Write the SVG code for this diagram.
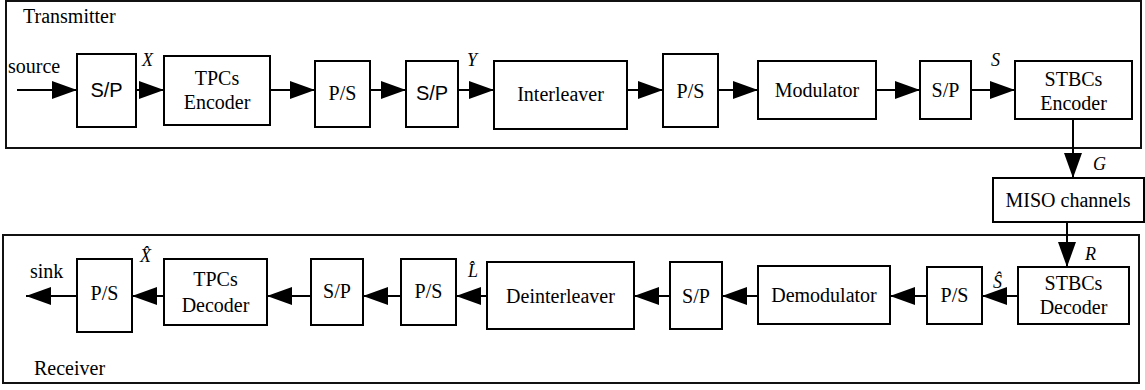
<svg xmlns="http://www.w3.org/2000/svg" width="1145" height="390" viewBox="0 0 1145 390">
<style>
text{font-family:"Liberation Serif","Times New Roman",serif;font-size:20px;fill:#000}
.sans{font-family:"Liberation Sans",Arial,sans-serif}
.lbl{font-style:italic;font-size:18px}
.c{text-anchor:middle}
rect{fill:#fff;stroke:#000;stroke-width:2}
.frame{fill:none;stroke:#111;stroke-width:2}
.ln{stroke:#000;stroke-width:2;fill:none}
</style>
<defs>
<marker id="ah" markerUnits="userSpaceOnUse" markerWidth="25" markerHeight="18" refX="25" refY="9" orient="auto" viewBox="0 0 25 18">
<path d="M0,0 L25,9 L0,18 z" fill="#000"/>
</marker>
</defs>
<g id="transmitter">
<rect class="frame" x="6" y="1" width="1135" height="147"/>
<text x="23" y="23">Transmitter</text>
</g>
<g id="receiver">
<rect class="frame" x="3" y="235" width="1136" height="148"/>
<text x="34" y="375">Receiver</text>
</g>
<g id="sp1"><rect x="77" y="54" width="59" height="73"/><text class="sans c" x="106.5" y="97">S/P</text></g>
<g id="tpcenc"><rect x="164" y="56" width="106" height="69"/><text class="c" x="217" y="85">TPCs</text><text class="c" x="217" y="109">Encoder</text></g>
<g id="ps1"><rect x="315" y="61" width="55" height="66"/><text class="c" x="342.5" y="100">P/S</text></g>
<g id="sp2"><rect x="406" y="61" width="52" height="66"/><text class="sans c" x="432" y="100">S/P</text></g>
<g id="interleaver"><rect x="494" y="61" width="133" height="68"/><text class="c" x="560.5" y="101">Interleaver</text></g>
<g id="ps2"><rect x="663" y="54" width="55" height="73"/><text class="c" x="690.5" y="98">P/S</text></g>
<g id="modulator"><rect x="758" y="61" width="118" height="58"/><text class="c" x="817" y="97">Modulator</text></g>
<g id="sp3"><rect x="920" y="61" width="51" height="58"/><text class="c" x="945.5" y="97">S/P</text></g>
<g id="stbcenc"><rect x="1015" y="61" width="117" height="58"/><text class="c" x="1073.5" y="86">STBCs</text><text class="c" x="1073.5" y="110">Encoder</text></g>
<g id="miso"><rect x="993" y="178" width="151" height="44"/><text class="c" x="1068" y="207">MISO channels</text></g>
<g id="stbcdec"><rect x="1018" y="267" width="111" height="57"/><text class="c" x="1073.5" y="290">STBCs</text><text class="c" x="1073.5" y="314">Decoder</text></g>
<g id="ps3"><rect x="927" y="267" width="55" height="57"/><text class="c" x="954.5" y="302">P/S</text></g>
<g id="demodulator"><rect x="758" y="266" width="132" height="58"/><text class="c" x="824" y="302">Demodulator</text></g>
<g id="sp4"><rect x="670" y="262" width="52" height="67"/><text class="c" x="696" y="303">S/P</text></g>
<g id="deinterleaver"><rect x="487" y="262" width="147" height="67"/><text class="c" x="560.5" y="303">Deinterleaver</text></g>
<g id="ps4"><rect x="401" y="259" width="55" height="66"/><text class="c" x="428.5" y="298">P/S</text></g>
<g id="sp5"><rect x="311" y="259" width="52" height="66"/><text class="c" x="337" y="298">S/P</text></g>
<g id="tpcdec"><rect x="164" y="259" width="103" height="66"/><text class="c" x="215.5" y="286">TPCs</text><text class="c" x="215.5" y="312">Decoder</text></g>
<g id="ps5"><rect x="77" y="259" width="55" height="73"/><text class="c" x="104.5" y="300">P/S</text></g>
<g id="connectors">
<path class="ln" marker-end="url(#ah)" d="M17,90 H77"/>
<path class="ln" marker-end="url(#ah)" d="M136,90 H164"/>
<path class="ln" marker-end="url(#ah)" d="M270,90 H315"/>
<path class="ln" marker-end="url(#ah)" d="M370,90 H406"/>
<path class="ln" marker-end="url(#ah)" d="M458,90 H494"/>
<path class="ln" marker-end="url(#ah)" d="M627,90 H663"/>
<path class="ln" marker-end="url(#ah)" d="M718,90 H758"/>
<path class="ln" marker-end="url(#ah)" d="M876,90 H920"/>
<path class="ln" marker-end="url(#ah)" d="M971,90 H1015"/>
<path class="ln" marker-end="url(#ah)" d="M1073,119 V178"/>
<path class="ln" marker-end="url(#ah)" d="M1067,222 V267"/>
<path class="ln" marker-end="url(#ah)" d="M1018,296 H982"/>
<path class="ln" marker-end="url(#ah)" d="M927,296 H890"/>
<path class="ln" marker-end="url(#ah)" d="M758,296 H722"/>
<path class="ln" marker-end="url(#ah)" d="M670,296 H634"/>
<path class="ln" marker-end="url(#ah)" d="M487,296 H456"/>
<path class="ln" marker-end="url(#ah)" d="M401,296 H363"/>
<path class="ln" marker-end="url(#ah)" d="M311,296 H267"/>
<path class="ln" marker-end="url(#ah)" d="M164,296 H132"/>
<path class="ln" marker-end="url(#ah)" d="M77,296 H26"/>
</g>
<g id="labels">
<text x="8" y="73">source</text>
<text x="30" y="278">sink</text>
<text class="lbl" x="142" y="66">X</text>
<text class="lbl" x="467" y="66">Y</text>
<text class="lbl" x="991" y="66">S</text>
<text class="lbl" x="1093" y="170">G</text>
<text class="lbl" x="1085" y="260">R</text>
<text class="lbl" x="140" y="262">X̂</text>
<text class="lbl" x="468" y="277">L̂</text>
<text class="lbl" x="993" y="288">Ŝ</text>
</g>
</svg>
